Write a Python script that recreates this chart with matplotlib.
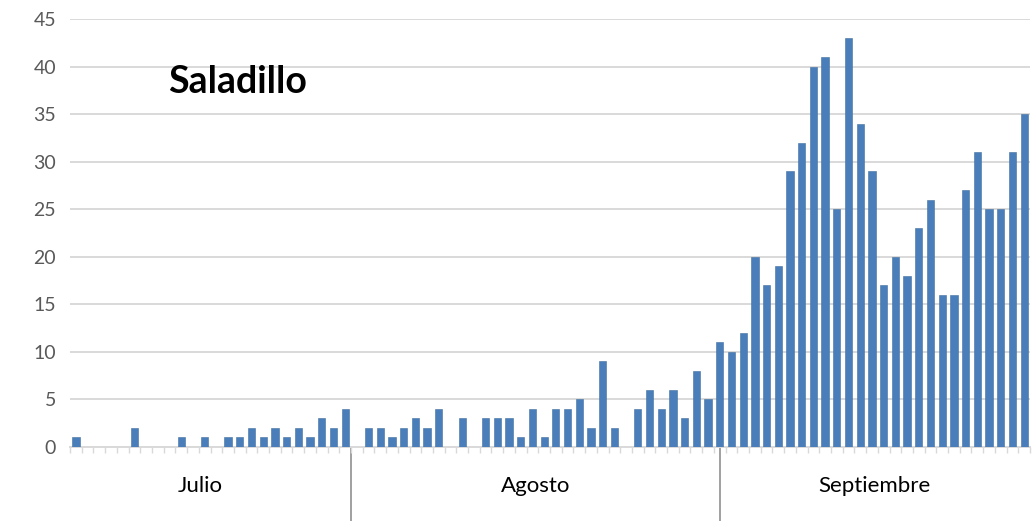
import numpy as np
import matplotlib
matplotlib.use("Agg")
import matplotlib.pyplot as plt
import matplotlib.transforms as mtransforms

# ---- data ----
julio = [1, 0, 0, 0, 0, 2, 0, 0, 0, 1, 0, 1, 0, 1, 1, 2, 1, 2, 1, 2, 1, 3, 2, 4]
agosto = [0, 2, 2, 1, 2, 3, 2, 4, 0, 3, 0, 3, 3, 3, 1, 4, 1, 4, 4, 5, 2, 9, 2, 0,
          4, 6, 4, 6, 3, 8, 5]
septiembre = [11, 10, 12, 20, 17, 19, 29, 32, 40, 41, 25, 43, 34, 29, 17, 20, 18,
              23, 26, 16, 16, 27, 31, 25, 25, 31, 35]
months = ["Julio", "Agosto", "Septiembre"]
title = "Saladillo"
yticks = [0, 5, 10, 15, 20, 25, 30, 35, 40, 45]

values = julio + agosto + septiembre
n = len(values)
x = np.arange(n)

# layout (category-axis positions of month separators and labels)
sep_x = [23.5, 55.0]
label_x = [10.6, 39.3, 68.2]

plt.rcParams['font.family'] = ['Lato', 'DejaVu Sans']

fig = plt.figure(figsize=(10.36, 5.21), dpi=100)
ax = fig.add_axes([0.0676, 0.1426, 0.9266, 0.8209])

ax.bar(x, values, width=0.62, color='#4a7ebb', edgecolor='#41709f', linewidth=0.4, zorder=3)

ax.set_xlim(-0.5, n - 0.5)
ax.set_ylim(0, 45)
ax.set_yticks(yticks)
ax.set_yticklabels([str(v) for v in yticks], fontsize=14, color='#595959')
ax.tick_params(axis='y', length=0, pad=10)
ax.yaxis.grid(True, color='#d9d9d9', linewidth=1.4, zorder=0)

ax.set_xticks(np.arange(-0.5, n, 1))
ax.set_xticklabels([])
ax.tick_params(axis='x', length=4, width=1, color='#d9d9d9', direction='out')

for s in ['top', 'right', 'left']:
    ax.spines[s].set_visible(False)
ax.spines['bottom'].set_color('#d9d9d9')
ax.spines['bottom'].set_linewidth(1.4)

trans = mtransforms.blended_transform_factory(ax.transData, ax.transAxes)
for sx in sep_x:
    ax.plot([sx, sx], [0, -0.25], transform=trans, color='#a0a0a0', linewidth=1.4,
            clip_on=False, zorder=1)
for lx, m in zip(label_x, months):
    ax.text(lx, -0.092, m, transform=trans, ha='center', va='center',
            fontsize=16, color='#000000')

ax.text(0.102, 0.853, title, transform=ax.transAxes, ha='left', va='center',
        fontsize=27, fontweight='bold', color='#000000')

fig.savefig('out.png', dpi=100)
